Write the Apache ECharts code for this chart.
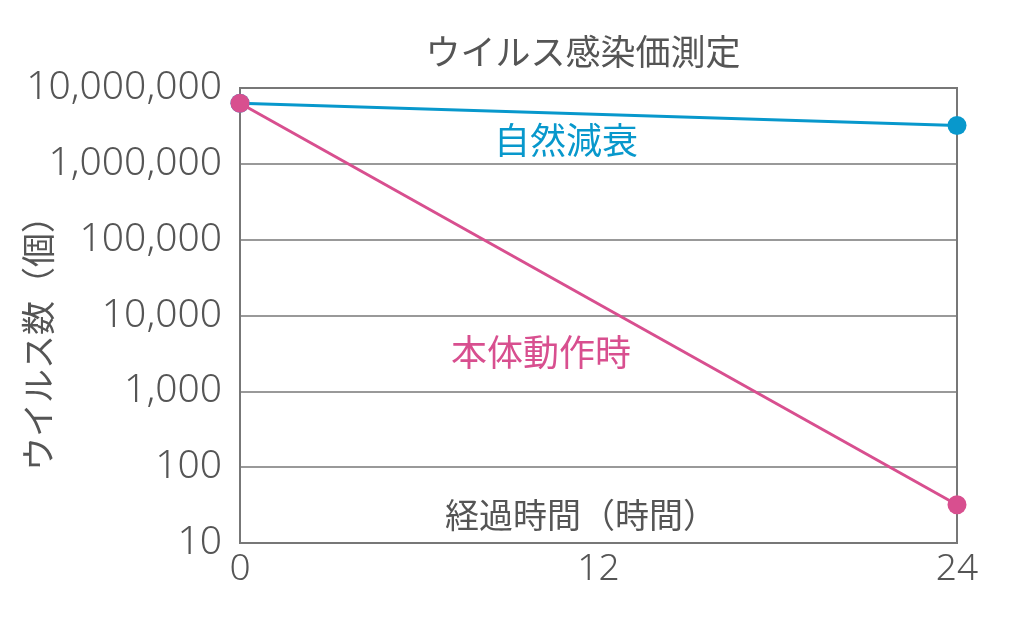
<!DOCTYPE html>
<html>
<head>
<meta charset="utf-8">
<script src="https://cdn.jsdelivr.net/npm/echarts@6/dist/echarts.min.js"></script>
<style>
html,body{margin:0;padding:0;background:#fff;}
#chart{width:1033px;height:617px;}
</style>
</head>
<body>
<div id="chart"></div>
<script>
const hours = [0, 24];
const naturalDecay = [6300000, 3200000];
const deviceOn = [6300000, 32];
const xTicks = [0, 12, 24];
const yTicks = [10, 100, 1000, 10000, 100000, 1000000, 10000000];
const titleText = 'ウイルス感染価測定';
const yName = 'ウイルス数（個）';
const xName = '経過時間（時間）';
const naturalName = '自然減衰';
const deviceName = '本体動作時';

const FONT = '"Noto Sans CJK JP", "Noto Sans", sans-serif';
const NUMFONT = '"Noto Sans", "Noto Sans CJK JP", sans-serif';
const TXT = '#555555';
const BLUE = '#0898cc';
const PINK = '#d84f8f';

const chart = echarts.init(document.getElementById('chart'));
chart.setOption({
  animation: false,
  backgroundColor: '#ffffff',
  textStyle: { fontFamily: FONT },
  grid: { left: 240, right: 76, top: 88, bottom: 74, show: true, borderColor: '#777777', borderWidth: 2, containLabel: false },
  xAxis: {
    type: 'value', min: xTicks[0], max: xTicks[xTicks.length - 1], interval: 12,
    axisLine: { show: true, lineStyle: { color: '#777777', width: 2 } },
    axisTick: { show: false },
    splitLine: { show: false },
    axisLabel: { color: TXT, fontSize: 37, fontFamily: NUMFONT, fontWeight: 300, margin: 8,
      formatter: v => xTicks.includes(v) ? String(v) : '' }
  },
  yAxis: {
    type: 'log', logBase: 10, min: yTicks[0], max: yTicks[yTicks.length - 1],
    axisLine: { show: true, lineStyle: { color: '#777777', width: 2 } },
    axisTick: { show: false },
    splitLine: { show: true, lineStyle: { color: '#777777', width: 1.5 } },
    axisLabel: { color: TXT, fontSize: 39, fontFamily: NUMFONT, fontWeight: 300, margin: 18,
      padding: [6, 0, 0, 0],
      formatter: v => String(Math.round(v)).replace(/\B(?=(\d{3})+(?!\d))/g, ',') }
  },
  series: [
    { type: 'line', name: naturalName, data: hours.map((h, i) => [h, naturalDecay[i]]),
      symbol: 'circle', symbolSize: 19, lineStyle: { color: BLUE, width: 3 }, itemStyle: { color: BLUE }, z: 3 },
    { type: 'line', name: deviceName, data: hours.map((h, i) => [h, deviceOn[i]]),
      symbol: 'circle', symbolSize: 19, lineStyle: { color: PINK, width: 3 }, itemStyle: { color: PINK }, z: 4 }
  ],
  graphic: [
    { type: 'text', x: 583, y: 52, z: 10,
      style: { text: titleText, fill: TXT, font: '35px ' + FONT, textAlign: 'center', textVerticalAlign: 'middle' } },
    { type: 'text', x: 38, y: 335, rotation: Math.PI / 2, z: 10,
      style: { text: yName, fill: TXT, font: '34px ' + FONT, textAlign: 'center', textVerticalAlign: 'middle' } },
    { type: 'text', x: 581, y: 515, z: 10,
      style: { text: xName, fill: TXT, font: '34px ' + FONT, textAlign: 'center', textVerticalAlign: 'middle' } },
    { type: 'text', x: 566, y: 140, z: 10,
      style: { text: naturalName, fill: BLUE, font: '36px ' + FONT, textAlign: 'center', textVerticalAlign: 'middle' } },
    { type: 'text', x: 541, y: 352, z: 10,
      style: { text: deviceName, fill: PINK, font: '36px ' + FONT, textAlign: 'center', textVerticalAlign: 'middle' } }
  ]
});
</script>
</body>
</html>
